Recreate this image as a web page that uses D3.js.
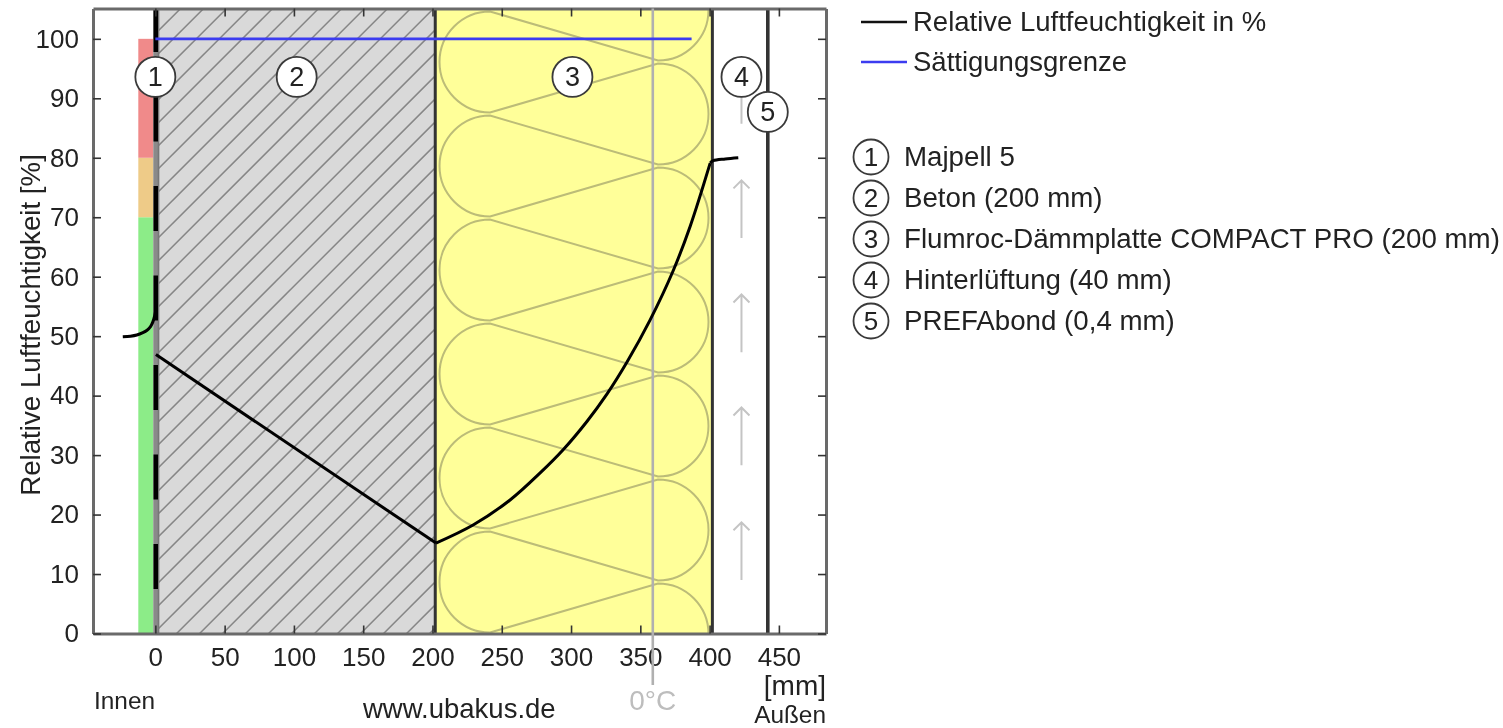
<!DOCTYPE html>
<html>
<head>
<meta charset="utf-8">
<style>
  html, body { margin: 0; padding: 0; background: #fff; }
  svg { display: block; filter: blur(0.5px); }
  text { font-family: "Liberation Sans", Arial, sans-serif; fill: #222; }
</style>
<script src="https://cdnjs.cloudflare.com/ajax/libs/d3/7.8.5/d3.min.js"></script>
</head>
<body>
<svg id="chart" width="1503" height="728"></svg>
<script>
// values (x in mm, y in %)
const xTicks = [0, 50, 100, 150, 200, 250, 300, 350, 400, 450];
const yTicks = [0, 10, 20, 30, 40, 50, 60, 70, 80, 90, 100];

const humidityInside = [[-23.5, 49.9], [-18, 50], [-13.4, 50.2], [-9, 50.6], [-6, 51], [-3.5, 51.6], [-1.8, 52.4], [-0.5, 53.4], [0.4, 54.5]];
const humidityConcrete = [[0.4, 46.9], [202.5, 15.2]];
const humidityInsulation = [[202.5, 15.2], [229.3, 18.25], [256, 22.45], [277.7, 27], [294.3, 30.9], [311.6, 35.7], [326, 40.3], [340.5, 45.7], [357, 52.7], [373.7, 61], [386, 68.5], [400.4, 79.1]];
const humidityAir = [[400.4, 79.1], [402.6, 79.5], [411.3, 79.8], [420.7, 80]];
const saturation = [[0, 100], [387, 100]];

const comfortBands = [
  { from: 0, to: 70, color: "#8cec88" },
  { from: 70, to: 80, color: "#eecb88" },
  { from: 80, to: 100, color: "#f08a8a" }
];

const layerEdges = [0, 2, 202, 402, 442];
const layerNames = ["Majpell 5", "Beton (200 mm)", "Flumroc-Dämmplatte COMPACT PRO (200 mm)", "Hinterlüftung (40 mm)", "PREFAbond (0,4 mm)"];
const markers = [[0, 93.6], [102, 93.6], [301, 93.6], [423, 93.6], [442, 87.7]];
const arrowStarts = [85.7, 66.5, 47.3, 28.3, 9];
const zeroDegree = 359;

const x = d3.scaleLinear().domain([-45, 484]).range([93, 826]);
const y = d3.scaleLinear().domain([0, 105.1]).range([633.5, 8.5]);

const svg = d3.select("#chart");
const defs = svg.append("defs");

defs.append("clipPath").attr("id", "insClip").append("rect")
  .attr("x", x(202)).attr("y", y(105.1))
  .attr("width", x(402) - x(202)).attr("height", y(0) - y(105.1));

defs.append("clipPath").attr("id", "conClip").append("rect")
  .attr("x", x(2)).attr("y", y(105.1))
  .attr("width", x(202) - x(2)).attr("height", y(0) - y(105.1));

// comfort strip on the left
svg.selectAll(".band").data(comfortBands).enter().append("rect")
  .attr("class", "band")
  .attr("x", x(-12.3)).attr("width", x(-1.5) - x(-12.3))
  .attr("y", d => y(d.to)).attr("height", d => y(d.from) - y(d.to))
  .attr("fill", d => d.color);

// concrete
svg.append("rect")
  .attr("x", x(layerEdges[1])).attr("y", y(105.1))
  .attr("width", x(layerEdges[2]) - x(layerEdges[1])).attr("height", y(0) - y(105.1))
  .attr("fill", "#d9d9d9");

const hatch = svg.append("g").attr("clip-path", "url(#conClip)");
d3.range(0, 42).forEach(function(i) {
  const b = 8 + i * 23;
  hatch.append("line")
    .attr("x1", x(2)).attr("y1", b)
    .attr("x2", x(2) + 500).attr("y2", b - 500)
    .attr("stroke", "#868686").attr("stroke-width", 1.5);
});

// insulation
svg.append("rect")
  .attr("x", x(layerEdges[2])).attr("y", y(105.1))
  .attr("width", x(layerEdges[3]) - x(layerEdges[2])).attr("height", y(0) - y(105.1))
  .attr("fill", "#ffff99");

// batting curve, left and right lobes one after the other
const lobeR = 50.5;
const lobeLeft = 490, lobeRight = 658, lobePeriod = 104;
const lobeTop = 62;
let batt = `M${lobeRight},${lobeTop - lobePeriod * 1.5 + lobeR}`;
d3.range(-1, 7).forEach(function(i) {
  const cl = lobeTop + i * lobePeriod;
  const cr = cl + lobePeriod / 2;
  batt += `L${lobeLeft},${cl - lobeR}`;
  batt += `A${lobeR},${lobeR} 0 0 0 ${lobeLeft},${cl + lobeR}`;
  batt += `L${lobeRight},${cr - lobeR}`;
  batt += `A${lobeR},${lobeR} 0 0 1 ${lobeRight},${cr + lobeR}`;
});
svg.append("path").attr("clip-path", "url(#insClip)")
  .attr("d", batt)
  .attr("fill", "none").attr("stroke", "#bcbc78").attr("stroke-width", 2);

// air gap arrows
const arrows = svg.append("g").attr("stroke", "#c4c4c4").attr("stroke-width", 2).attr("fill", "none");
arrowStarts.forEach(function(v) {
  const ax = x(markers[3][0]), top = y(v + 9.7), bot = y(v);
  arrows.append("path").attr("d", `M${ax},${bot}L${ax},${top}M${ax - 8},${top + 8}L${ax},${top}L${ax + 8},${top + 8}`);
});

// layer borders, first layer is black dashes over a grey band
svg.append("line").attr("x1", x(0.3)).attr("x2", x(0.3)).attr("y1", y(105.1)).attr("y2", y(0))
  .attr("stroke", "#8a8a8a").attr("stroke-width", 5);
svg.append("line").attr("x1", x(2.3)).attr("x2", x(2.3)).attr("y1", y(105.1)).attr("y2", y(0))
  .attr("stroke", "#777").attr("stroke-width", 1.6);
svg.append("line").attr("x1", x(0.3)).attr("x2", x(0.3)).attr("y1", y(0)).attr("y2", y(105.1))
  .attr("stroke", "#000").attr("stroke-width", 4.5).attr("stroke-dasharray", "45 44.5").attr("stroke-dashoffset", "-44.5");
[[layerEdges[2], 3], [layerEdges[3], 3], [layerEdges[4], 3.6]].forEach(function(d) {
  svg.append("line").attr("x1", x(d[0])).attr("x2", x(d[0])).attr("y1", y(105.1)).attr("y2", y(0))
    .attr("stroke", "#333").attr("stroke-width", d[1]);
});

// frame and ticks
const frame = svg.append("g");
function styleAxis(g) {
  g.selectAll(".domain").attr("stroke", "#6a6a6a").attr("stroke-width", 3);
  g.selectAll(".tick line").attr("stroke", "#333").attr("stroke-width", 1.6);
  g.selectAll("text").attr("font-size", 26).attr("font-family", '"Liberation Sans", Arial, sans-serif').attr("fill", "#222");
}
frame.append("g").attr("transform", `translate(0,${y(0)})`)
  .call(d3.axisBottom(x).tickValues(xTicks).tickSizeInner(-8).tickSizeOuter(0).tickPadding(14))
  .call(styleAxis);
frame.append("g").attr("transform", `translate(0,${y(105.1)})`)
  .call(d3.axisTop(x).tickValues(xTicks).tickSizeInner(-8).tickSizeOuter(0).tickFormat(""))
  .call(styleAxis);
frame.append("g").attr("transform", `translate(${x(-45)},0)`)
  .call(d3.axisLeft(y).tickValues(yTicks).tickSizeInner(-8).tickSizeOuter(0).tickPadding(14))
  .call(styleAxis);
frame.append("g").attr("transform", `translate(${x(484)},0)`)
  .call(d3.axisRight(y).tickValues(yTicks).tickSizeInner(-8).tickSizeOuter(0).tickFormat(""))
  .call(styleAxis);

// 0 degree line
svg.append("line").attr("x1", x(zeroDegree)).attr("x2", x(zeroDegree)).attr("y1", y(105.1)).attr("y2", 685)
  .attr("stroke", "#b0b0b0").attr("stroke-width", 2.6);
svg.append("text").attr("x", x(zeroDegree)).attr("y", 710).attr("text-anchor", "middle")
  .attr("font-size", 28).style("fill", "#bdbdbd").text("0°C");

// curves
const line = d3.line().x(d => x(d[0])).y(d => y(d[1]));
const smooth = d3.line().x(d => x(d[0])).y(d => y(d[1])).curve(d3.curveCatmullRom);
svg.append("path").attr("d", line(saturation)).attr("fill", "none").attr("stroke", "#3c3cf0").attr("stroke-width", 2.6);
svg.append("path").attr("d", smooth(humidityInside)).attr("fill", "none").attr("stroke", "#000").attr("stroke-width", 3);
svg.append("path").attr("d", line(humidityConcrete)).attr("fill", "none").attr("stroke", "#000").attr("stroke-width", 3);
svg.append("path").attr("d", smooth(humidityInsulation)).attr("fill", "none").attr("stroke", "#000").attr("stroke-width", 3);
svg.append("path").attr("d", smooth(humidityAir)).attr("fill", "none").attr("stroke", "#000").attr("stroke-width", 3);

// numbered markers on the layers
const marks = svg.selectAll(".mark").data(markers).enter().append("g").attr("class", "mark")
  .attr("transform", d => `translate(${x(d[0])},${y(d[1])})`);
marks.append("circle").attr("r", 20).attr("fill", "#fff").attr("stroke", "#3a3a3a").attr("stroke-width", 1.8);
marks.append("text").attr("text-anchor", "middle").attr("dy", 9.5).attr("font-size", 27).text((d, i) => i + 1);

// legend
const legendSeries = [["Relative Luftfeuchtigkeit in %", "#111", 22], ["Sättigungsgrenze", "#3c3cf0", 62]];
legendSeries.forEach(function(d) {
  svg.append("line").attr("x1", 861).attr("x2", 907).attr("y1", d[2]).attr("y2", d[2]).attr("stroke", d[1]).attr("stroke-width", 2.6);
  svg.append("text").attr("x", 913).attr("y", d[2] + 9).attr("font-size", 27.5).text(d[0]);
});
layerNames.forEach(function(name, i) {
  const ly = 157 + i * 41;
  svg.append("circle").attr("cx", 871).attr("cy", ly).attr("r", 17.5).attr("fill", "#fff").attr("stroke", "#3a3a3a").attr("stroke-width", 1.8);
  svg.append("text").attr("x", 871).attr("y", ly + 9).attr("text-anchor", "middle").attr("font-size", 26).text(i + 1);
  svg.append("text").attr("x", 904).attr("y", ly + 9).attr("font-size", 27.7).text(name);
});

// loose labels
svg.append("text").attr("transform", "translate(40,325) rotate(-90)").attr("text-anchor", "middle").attr("font-size", 27.7).text("Relative Luftfeuchtigkeit [%]");
svg.append("text").attr("x", 94).attr("y", 709).attr("font-size", 24.4).text("Innen");
svg.append("text").attr("x", 363).attr("y", 718).attr("font-size", 27.5).text("www.ubakus.de");
svg.append("text").attr("x", 826).attr("y", 695).attr("text-anchor", "end").attr("font-size", 28).text("[mm]");
svg.append("text").attr("x", 826).attr("y", 722.5).attr("text-anchor", "end").attr("font-size", 24.4).text("Außen");
</script>
</body>
</html>
